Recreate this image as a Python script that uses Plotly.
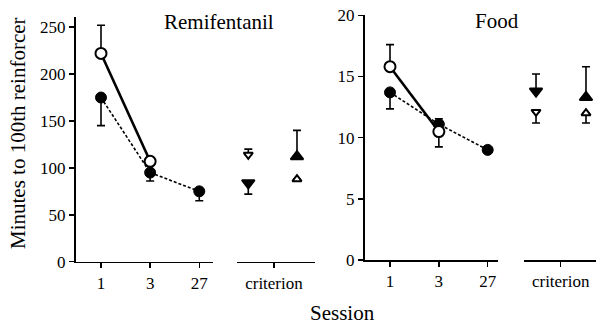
import plotly.graph_objects as go

# ---------------- data ----------------
sessions = ["1", "3", "27"]
session_pos = [0, 1, 2]

# Remifentanil (minutes)
remi_open_mean = [222, 107]
remi_open_err_up = [30, 4]
remi_filled_mean = [175, 95, 75]
remi_filled_err_down = [30, 9, 10]

# Food (minutes)
food_open_mean = [15.8, 10.5]
food_open_err_up = [1.8, 0]
food_open_err_down = [0, 1.25]
food_filled_mean = [13.7, 11.1, 9.0]
food_filled_err_up = [0, 0.45, 0]
food_filled_err_down = [1.35, 0, 0]

# criterion points: order = open-down, filled-down, filled-up, open-up
crit_kind = ["open_down", "filled_down", "filled_up", "open_up"]
remi_crit_mean = [114, 84, 112, 88]
remi_crit_err_up = [6, 0, 28, 0]
remi_crit_err_down = [0, 12, 0, 0]
food_crit_mean = [12.1, 13.8, 13.3, 12.0]
food_crit_err_up = [0, 1.4, 2.5, 0]
food_crit_err_down = [0.9, 0, 0, 0.8]

remi_ticks = [0, 50, 100, 150, 200, 250]
food_ticks = [0, 5, 10, 15, 20]

# ---------------- layout helpers ----------------
W, H = 596, 327
FONT = "Liberation Serif"

def px_x(a, b):
    return [a / W, b / W]

def px_y(bottom, top):
    return [(H - bottom) / H, (H - top) / H]

# criterion marker slots within criterion axis (left/right)
crit_slot = {"remi": {"open_down": 0.148, "filled_down": 0.148, "filled_up": 0.77, "open_up": 0.77},
             "food": {"open_down": 0.167, "filled_down": 0.167, "filled_up": 0.861, "open_up": 0.861}}

sym = {
    "open_down": ("triangle-down", "white", 8),
    "filled_down": ("triangle-down", "black", 11),
    "filled_up": ("triangle-up", "black", 11),
    "open_up": ("triangle-up", "white", 8),
}

fig = go.Figure()

def err(up, down):
    return dict(type="data", symmetric=False, array=up, arrayminus=down,
                color="black", thickness=1.6, width=4)

def add_session(xa, ya, mean_f, up_f, down_f, mean_o, up_o, down_o):
    # filled (dashed)
    fig.add_trace(go.Scatter(
        x=session_pos[:len(mean_f)], y=mean_f, xaxis=xa, yaxis=ya, mode="lines+markers",
        line=dict(color="black", width=1.6, dash="3px,2px"),
        marker=dict(symbol="circle", size=11, color="black", line=dict(color="black", width=1)),
        error_y=err(up_f, down_f), showlegend=False, hoverinfo="skip"))
    # open (solid)
    fig.add_trace(go.Scatter(
        x=session_pos[:len(mean_o)], y=mean_o, xaxis=xa, yaxis=ya, mode="lines+markers",
        line=dict(color="black", width=2.6),
        marker=dict(symbol="circle", size=11, color="white", line=dict(color="black", width=2)),
        error_y=err(up_o, down_o), showlegend=False, hoverinfo="skip"))

def add_crit(xa, ya, key, mean, up, down):
    for k, m, u, d in zip(crit_kind, mean, up, down):
        s, c, sz = sym[k]
        fig.add_trace(go.Scatter(
            x=[crit_slot[key][k]], y=[m], xaxis=xa, yaxis=ya, mode="markers",
            marker=dict(symbol=s, size=sz, color=c, line=dict(color="black", width=2)),
            error_y=err([u], [d]), showlegend=False, hoverinfo="skip"))

add_session("x", "y", remi_filled_mean, [0, 0, 0], remi_filled_err_down,
            remi_open_mean, remi_open_err_up, [0, 0])
add_crit("x2", "y", "remi", remi_crit_mean, remi_crit_err_up, remi_crit_err_down)
add_session("x3", "y2", food_filled_mean, food_filled_err_up, food_filled_err_down,
            food_open_mean, food_open_err_up, food_open_err_down)
add_crit("x4", "y2", "food", food_crit_mean, food_crit_err_up, food_crit_err_down)

axis_common = dict(showline=True, linecolor="black", linewidth=1.5, ticks="outside",
                   ticklen=5, tickwidth=1.5, tickcolor="black", showgrid=False,
                   zeroline=False, fixedrange=True, automargin=False)

def label(text, x, y, angle=0):
    return dict(text=text, x=x / W, y=(H - y) / H, xref="paper", yref="paper",
                xanchor="center", yanchor="middle", textangle=angle, showarrow=False,
                font=dict(family=FONT, size=21, color="black"))

fig.update_layout(
    template="none",
    width=W, height=H, margin=dict(l=0, r=0, t=0, b=0, pad=0), autosize=False,
    paper_bgcolor="white", plot_bgcolor="white",
    font=dict(family=FONT, size=17, color="black"),
    xaxis=dict(domain=px_x(75.5, 212.7), anchor="y", range=[-0.519, 2.273],
               tickvals=session_pos, ticktext=sessions, **axis_common),
    xaxis2=dict(domain=px_x(236.7, 315), anchor="y", range=[0, 1],
                tickvals=[0.476], ticktext=["criterion"], **axis_common),
    xaxis3=dict(domain=px_x(364.5, 498), anchor="y2", range=[-0.522, 2.211],
                tickvals=session_pos, ticktext=sessions, **axis_common),
    xaxis4=dict(domain=px_x(524, 596), anchor="y2", range=[0, 1],
                tickvals=[0.51], ticktext=["criterion"], **axis_common),
    yaxis=dict(domain=px_y(261.7, 17.3), anchor="x", range=[0, 260.5],
               tickvals=remi_ticks, **axis_common),
    yaxis2=dict(domain=px_y(260, 15.3), anchor="x3", range=[0, 20],
                tickvals=food_ticks, **axis_common),
    annotations=[
        label("Remifentanil", 219, 22),
        label("Food", 497, 21),
        label("Session", 342, 313),
        label("Minutes to 100th reinforcer", 18, 133, -90),
    ],
)
fig.update_xaxes(tickfont=dict(family="Times New Roman", size=17, color="black"))
fig.update_yaxes(tickfont=dict(family=FONT, size=17, color="black"))

fig.write_html("out.html", config={"displayModeBar": False, "staticPlot": True},
               post_script="document.body.style.margin='0';")
